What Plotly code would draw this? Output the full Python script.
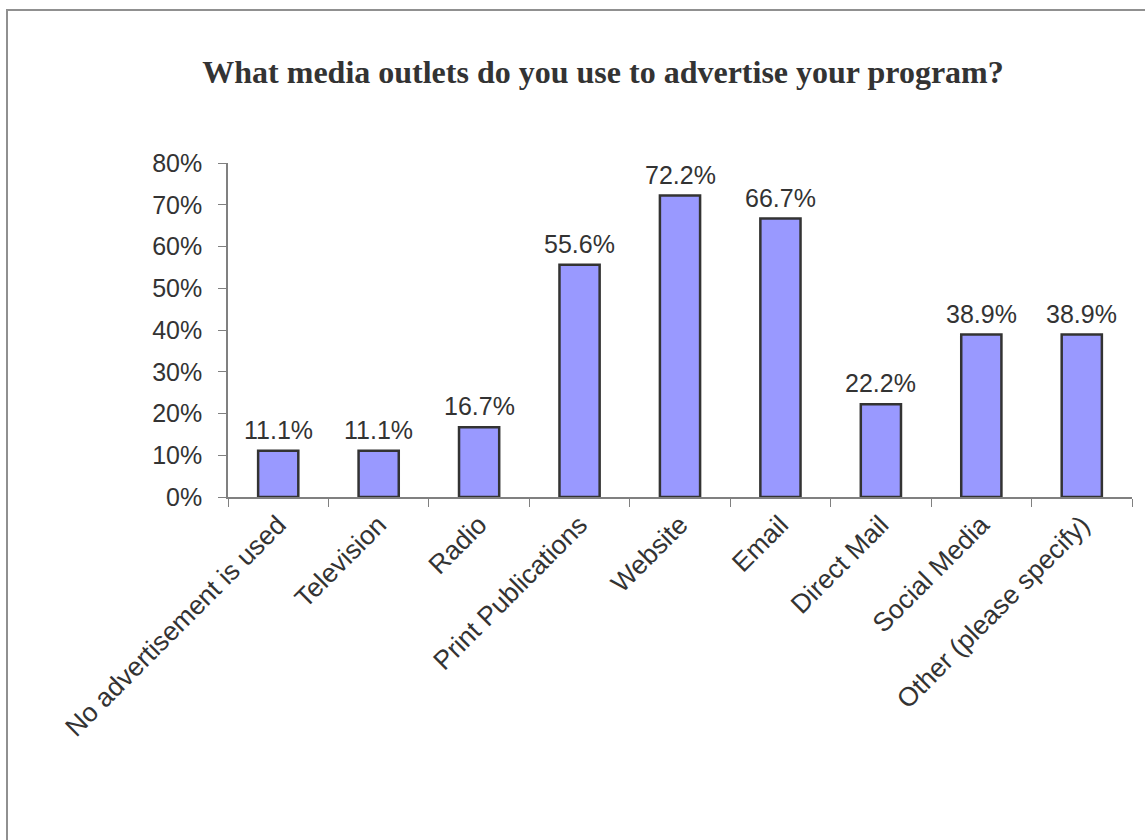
import plotly.graph_objects as go

categories = ["No advertisement is used", "Television", "Radio", "Print Publications",
              "Website", "Email", "Direct Mail", "Social Media", "Other (please specify)"]
values = [0.111, 0.111, 0.167, 0.556, 0.722, 0.667, 0.222, 0.389, 0.389]
labels = ["11.1%", "11.1%", "16.7%", "55.6%", "72.2%", "66.7%", "22.2%", "38.9%", "38.9%"]

W, H = 1145, 840
L, R, T, B = 228, 13, 163, 343
pw, ph = W - L - R, H - T - B

def px(x):
    return (x - L) / pw

def py(y):
    return (H - B - y) / ph

fig = go.Figure(go.Bar(
    x=categories, y=values, width=0.4,
    marker=dict(color="#9999FF", line=dict(color="#333333", width=2.5)),
))

for c, v, t in zip(categories, values, labels):
    fig.add_annotation(x=c, y=v, text=t, showarrow=False, yanchor="bottom",
                       yshift=5, font=dict(family="Liberation Sans, Arial", size=25,
                                           color="#333333"))

fig.update_layout(
    width=W, height=H, margin=dict(l=L, r=R, t=T, b=B),
    paper_bgcolor="white", plot_bgcolor="white", showlegend=False,
    title=dict(text="<b>What media outlets do you use to advertise your program?</b>",
               x=603 / W, xanchor="center", y=1 - 72 / H, yanchor="middle",
               font=dict(family="Liberation Serif, Times New Roman", size=32, color="#333333")),
    font=dict(family="Liberation Sans, Arial", size=25, color="#333333"),
    xaxis=dict(type="category", tickson="boundaries", ticks="outside", ticklen=8,
               tickcolor="#808080", showline=True, linecolor="#808080", linewidth=1.5,
               tickangle=-45, range=[-0.5, 8.5], showgrid=False,
               tickfont=dict(size=26.5, color="#333333")),
    yaxis=dict(range=[0, 0.8], dtick=0.1, tickformat=".0%", ticks="outside", ticklen=8,
               tickcolor="#808080", showline=True, linecolor="#808080", linewidth=1.5,
               showgrid=False, zeroline=False, ticklabelstandoff=11,
               tickfont=dict(size=25, color="#333333")),
    shapes=[dict(type="rect", xref="paper", yref="paper",
                 x0=px(7), x1=px(1160), y0=py(860), y1=py(10),
                 line=dict(color="#909090", width=2), fillcolor="rgba(0,0,0,0)",
                 layer="below")],
)

fig.write_html("out.html")
